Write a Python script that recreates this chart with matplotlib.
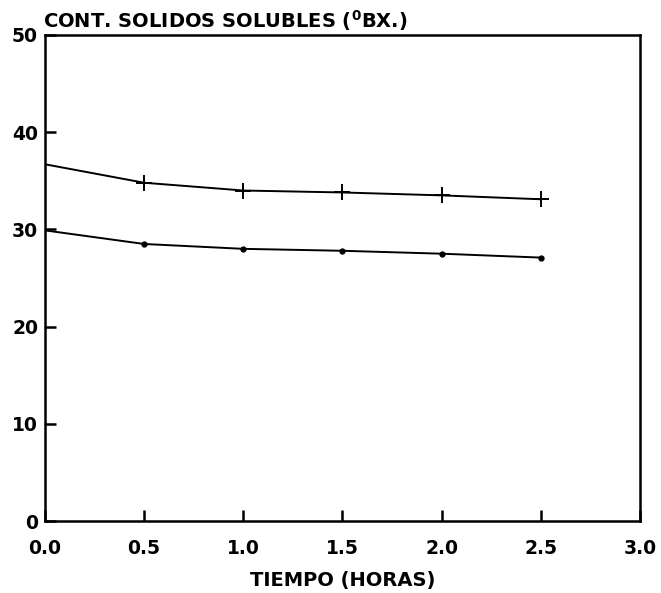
import matplotlib
matplotlib.use('Agg')
import matplotlib.pyplot as plt

plt.rcParams['font.family'] = ['DejaVu Sans']
plt.rcParams['mathtext.fontset'] = 'dejavusans'

# data
tiempo = [0.0, 0.5, 1.0, 1.5, 2.0, 2.5]
brix_alto = [36.7, 34.8, 34.0, 33.8, 33.5, 33.1]
brix_bajo = [29.9, 28.5, 28.0, 27.8, 27.5, 27.1]

x_ticks = [0.0, 0.5, 1.0, 1.5, 2.0, 2.5, 3.0]
y_ticks = [0, 10, 20, 30, 40, 50]

fig = plt.figure(figsize=(6.61, 5.93), dpi=100)
ax = fig.add_axes([0.068, 0.1214, 0.9, 0.8196])

# curves (line from t=0, markers at measured points)
ax.plot(tiempo, brix_alto, color='black', lw=1.4)
ax.plot(tiempo[1:], brix_alto[1:], ls='none', marker='+', ms=11, mew=1.4, color='black')
ax.plot(tiempo, brix_bajo, color='black', lw=1.4)
ax.plot(tiempo[1:], brix_bajo[1:], ls='none', marker='o', ms=3.5, color='black')

ax.set_xlim(0, 3)
ax.set_ylim(0, 50)
ax.set_xticks(x_ticks)
ax.set_xticklabels([f'{v:.1f}' for v in x_ticks])
ax.set_yticks(y_ticks)
for s in ax.spines.values():
    s.set_linewidth(1.8)
ax.tick_params(direction='in', length=8, width=1.8, labelsize=13.5)
ax.tick_params(axis='x', pad=13)
ax.tick_params(axis='y', pad=5)
for lab in ax.get_xticklabels() + ax.get_yticklabels():
    lab.set_fontweight('bold')

ax.set_xlabel('TIEMPO (HORAS)', fontsize=14, fontweight='bold', labelpad=9)
fig.text(0.065, 0.966, r'CONT. SOLIDOS SOLUBLES ($^{\mathbf{0}}$BX.)',
         fontsize=14, fontweight='bold', ha='left', va='center')

fig.savefig('out.png', dpi=100)
